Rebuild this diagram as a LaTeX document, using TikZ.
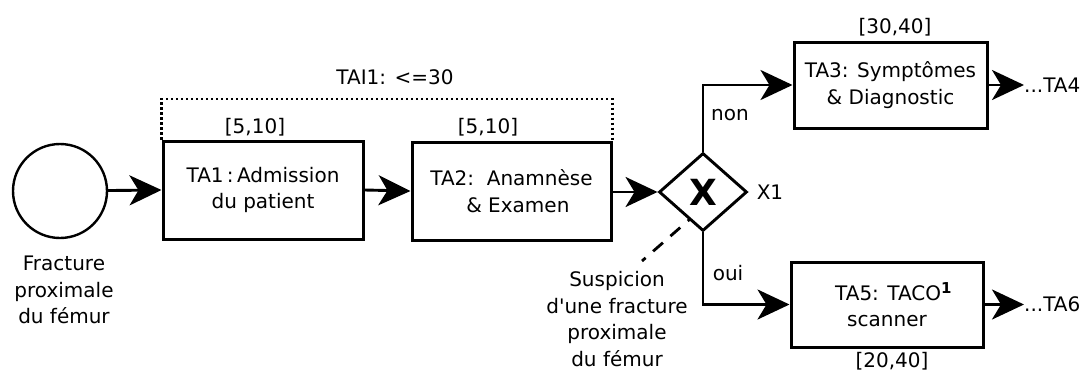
\documentclass[tikz,border=0pt]{standalone}
\usepackage{fontspec}
\setmainfont{DejaVu Sans}[Ligatures=TeXOff]
\usetikzlibrary{shapes.geometric,arrows.meta}
\begin{document}
\begin{tikzpicture}[x=1pt,y=-1pt,
  every node/.style={font=\fontsize{20}{26.5}\selectfont, inner sep=0pt},
  taskbox/.style={draw, line width=3pt, rectangle, align=center},
  conn/.style={line width=2.9pt, -{Stealth[length=32pt,width=30pt,inset=9pt]}},
  bracketline/.style={line width=2.6pt, dash pattern=on 2.4pt off 2.6pt},
  assoc/.style={line width=2.8pt, dash pattern=on 13pt off 10pt},
  lbl/.style={align=center}
]
\useasboundingbox (0,0) rectangle (1086,372);
% start event
\node[draw, circle, line width=2.4pt, minimum size=94pt] (start) at (60,191) {};
\node[lbl] (startlbl) at (64,290) {Fracture\\proximale\\du fémur};
% tasks
\node[taskbox, minimum width=200pt, minimum height=98pt] (ta1) at (263,190) {TA1\,:\,Admission\\ du patient};
\node[taskbox, minimum width=199pt, minimum height=98pt] (ta2) at (511.5,191) {TA2:\ \ Anamnèse\\ \ \ \& Examen};
\node[taskbox, minimum width=193pt, minimum height=86pt] (ta3) at (890.5,85) {TA3: Symptômes\\ \& Diagnostic};
\node[taskbox, minimum width=192pt, minimum height=85pt] (ta5) at (887,304.5) {\ \ TA5: TACO\raisebox{7pt}{\fontsize{15}{15}\selectfont$\mathbf{1}$}\\scanner};
% gateway
\node[draw, diamond, line width=2.9pt, minimum width=88pt, minimum height=78pt] (x1) at (703,192) {\fontsize{36}{36}\selectfont\bfseries X};
\node (x1lbl) at (770,192) {X1};
% time labels
\node (d1) at (255,127) {[5,10]};
\node (d2) at (488,127) {[5,10]};
\node (d3) at (895,27) {[30,40]};
\node (d5) at (892,361) {[20,40]};
\node (tai) at (395,77) {TAI1: <=30};
% next tasks
\node[anchor=west] (ta4) at (1024,85) {...TA4};
\node[anchor=west] (ta6) at (1024,304.5) {...TA6};
% condition labels
\node (non) at (730,115) {non};
\node (oui) at (728,273) {oui};
% annotation
\node[lbl] (susp) at (617,319) {Suspicion\\d'une fracture\\proximale\\du fémur};
% connectors
\draw[conn] (start) -- (ta1.west);
\draw[conn] (ta1.east) -- (ta2.west);
\draw[conn] (ta2.east |- x1.west) -- (x1.west);
\draw[conn] (x1.north) |- (ta3.west);
\draw[conn] (x1.south) |- (ta5.west);
\draw[conn] (ta3.east) -- (ta4.west);
\draw[conn] (ta5.east) -- (ta6.west);
% interval bracket
\coordinate (bl) at (163,99);
\draw[bracketline] (ta1.north west) -- (ta1.north west |- bl) -| (ta2.north east);
% association
\coordinate (a1) at (690,219);
\coordinate (a2) at (642,261);
\draw[assoc, dash phase=10pt] (a1) -- (a2);
\end{tikzpicture}
\end{document}
